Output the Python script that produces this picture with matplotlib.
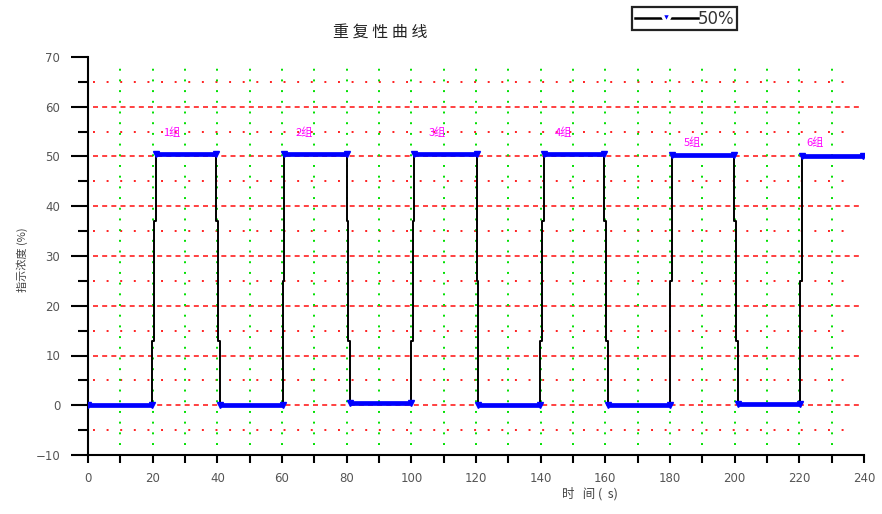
import matplotlib
matplotlib.use("Agg")
import matplotlib.pyplot as plt
from matplotlib.lines import Line2D

plt.rcParams['font.family'] = ['Noto Sans CJK SC', 'DejaVu Sans']

# plateaus of the repeated 0% / 50% test
plateau_start = [0.0, 21.0, 40.8, 60.6, 81.0, 100.9, 120.7, 141.1, 160.8, 180.6, 201.1, 220.8]
plateau_end = [19.9, 39.6, 60.2, 80.0, 99.8, 120.2, 139.8, 159.6, 180.0, 199.8, 220.2, 239.8]
plateau_level = [0.0, 50.5, 0.0, 50.5, 0.4, 50.5, 0.0, 50.5, 0.0, 50.3, 0.3, 50.2]

# the jumps between plateaus: x of each vertical piece and where it breaks
step_x = [[19.9, 20.4, 21.0], [39.6, 40.1, 40.8], [60.2, 60.6],
          [80.0, 80.5, 81.0], [99.8, 100.4, 100.9], [120.2, 120.7],
          [139.8, 140.3, 141.1], [159.6, 160.2, 160.8], [180.0, 180.6],
          [199.8, 200.4, 201.1], [220.2, 220.8]]
step_breaks = [[13, 37], [37, 13], [25], [37, 13], [13, 37], [25],
               [13, 37], [37, 13], [25], [37, 13], [25]]

group_labels = ['1组', '2组', '3组', '4组', '5组', '6组']
group_x = [26, 67, 108, 147, 187, 225]
group_y = [54.7, 54.7, 54.7, 54.7, 52.7, 52.7]

# build the black polyline
xs, ys = [], []
for i in range(len(plateau_start)):
    xs += [plateau_start[i], plateau_end[i]]
    ys += [plateau_level[i], plateau_level[i]]
    if i < len(step_x):
        vals = step_breaks[i] + [plateau_level[i + 1]]
        prev = plateau_level[i]
        for x, v in zip(step_x[i], vals):
            xs += [x, x]
            ys += [prev, v]
            prev = v

fig = plt.figure(figsize=(8.82, 5.14), dpi=100)
ax = fig.add_axes([88 / 882, 1 - 455 / 514, (864 - 88) / 882, (455 - 57) / 514])

# grid
for y in range(-10, 71, 5):
    if y in (-10, 70):
        continue
    if y % 10 == 0:
        ax.plot([1.5, 239.5], [y, y], color='#ff2020', lw=1.2,
                ls=(0, (3, 2.5)), zorder=1)
    else:
        ax.plot([1.5, 237], [y, y], color='#ff2020', lw=1.4,
                ls=(0, (1, 6)), zorder=1)
for x in range(10, 231, 10):
    ax.plot([x, x], [-8, 68], color='#00e000', lw=1.4,
            ls=(0, (1, 4.5)), zorder=1)

ax.plot(xs, ys, color='black', lw=1.4, zorder=3)
for s, e, v in zip(plateau_start, plateau_end, plateau_level):
    ax.plot([s, e], [v, v], color='#0000ff', lw=3.4, marker='v', ms=4,
            solid_capstyle='butt', zorder=4)

for lab, gx, gy in zip(group_labels, group_x, group_y):
    ax.text(gx, gy, lab, color='#ff00ff', fontsize=8, ha='center', va='center')

ax.set_xlim(0, 240)
ax.set_ylim(-10, 70)
ax.set_xticks(range(0, 241, 20))
ax.set_xticks(range(10, 240, 20), minor=True)
ax.set_yticks(range(-10, 71, 10))
ax.set_yticks(range(-5, 70, 10), minor=True)
for sp in ('top', 'right'):
    ax.spines[sp].set_visible(False)
for sp in ('left', 'bottom'):
    ax.spines[sp].set_linewidth(1.5)
ax.tick_params(axis='y', which='major', length=12, width=1.5, pad=8,
               labelsize=8.5, labelcolor='#555555')
ax.tick_params(axis='y', which='minor', length=7, width=1.5)
ax.tick_params(axis='x', which='major', length=6, width=1.5, pad=6,
               labelsize=8.5, labelcolor='#555555')
ax.tick_params(axis='x', which='minor', length=6, width=1.5)
for lbl in ax.get_xticklabels() + ax.get_yticklabels():
    lbl.set_fontfamily('DejaVu Sans')

fig.text(380 / 882, 1 - 33 / 514, '重 复 性 曲 线', ha='center', va='center',
         fontsize=11.5, color='#222222')
fig.text(590 / 882, 1 - 494 / 514, '时   间 (  s)', ha='center', va='center',
         fontsize=9, color='#444444')
fig.text(22 / 882, 1 - 260 / 514, '指示浓度 (%)', ha='center', va='center',
         rotation=90, fontsize=8, color='#444444')

handle = Line2D([], [], color='black', lw=1.8, marker='v', ms=7,
                markerfacecolor='#0000ff', markeredgecolor='white',
                markeredgewidth=2.5)
leg = ax.legend([handle], ['50%'], loc='upper left',
                bbox_to_anchor=(632 / 882, 1 - 7 / 514),
                bbox_transform=fig.transFigure, borderaxespad=0,
                fancybox=False, framealpha=1, edgecolor='#222222',
                handlelength=3.8, handletextpad=0.0, borderpad=0.15,
                prop={'family': 'DejaVu Sans', 'size': 12})
leg.get_frame().set_linewidth(1.6)
for t in leg.get_texts():
    t.set_color('#333333')

fig.savefig('out.png', dpi=100)
